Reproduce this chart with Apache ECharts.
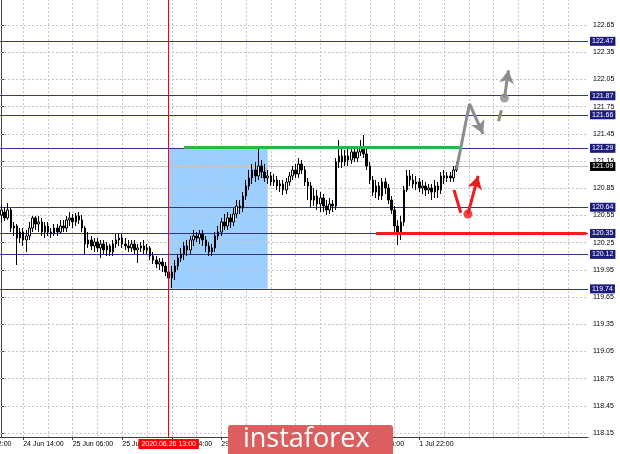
<!DOCTYPE html>
<html><head><meta charset="utf-8">
<script src="https://cdn.jsdelivr.net/npm/echarts@6/dist/echarts.min.js"></script>
<style>html,body{margin:0;padding:0;background:#fff}#c{width:620px;height:454px}</style>
</head><body><div id="c"></div>
<script>
// ---- data (USD/JPY H1) ----
const opens = [120.555,120.588,120.522,120.610,120.411,120.433,120.301,120.367,120.279,120.323,
120.411,120.522,120.455,120.478,120.367,120.433,120.367,120.345,120.411,120.367,
120.433,120.411,120.500,120.522,120.478,120.544,120.500,120.411,120.235,120.279,
120.213,120.257,120.191,120.235,120.169,120.213,120.147,120.235,120.279,120.301,
120.235,120.213,120.191,120.235,120.169,120.191,120.213,120.169,120.191,120.103,
120.058,120.014,120.036,119.992,119.926,119.860,119.926,119.992,120.080,120.125,
120.213,120.169,120.279,120.323,120.301,120.345,120.279,120.213,120.147,120.191,
120.323,120.367,120.478,120.433,120.522,120.478,120.566,120.654,120.632,120.764,
120.875,120.963,121.051,120.985,121.095,121.029,120.963,120.985,120.919,120.941,
120.875,120.897,120.831,120.919,120.985,121.051,121.007,121.117,121.051,120.919,
120.875,120.720,120.764,120.676,120.742,120.654,120.610,120.676,120.654,121.139,
121.206,121.139,121.206,121.161,121.250,121.183,121.250,121.294,121.228,121.095,
120.941,120.808,120.875,120.764,120.919,120.853,120.720,120.610,120.433,120.345,
120.478,120.831,120.985,120.941,120.897,120.919,120.853,120.875,120.831,120.853,
120.808,120.875,120.831,120.985,120.963,120.985,120.963,121.051];
const closes = [120.610,120.522,120.610,120.411,120.433,120.301,120.367,120.279,120.323,120.411,
120.522,120.455,120.478,120.367,120.433,120.367,120.345,120.411,120.367,120.433,
120.411,120.500,120.522,120.478,120.544,120.500,120.411,120.235,120.279,120.213,
120.257,120.191,120.235,120.169,120.213,120.147,120.235,120.279,120.301,120.235,
120.213,120.191,120.235,120.169,120.191,120.213,120.169,120.191,120.103,120.058,
120.014,120.036,119.992,119.926,119.860,119.926,119.992,120.080,120.125,120.213,
120.169,120.279,120.323,120.301,120.345,120.279,120.213,120.147,120.191,120.323,
120.367,120.478,120.433,120.522,120.478,120.566,120.654,120.632,120.764,120.875,
120.963,121.051,120.985,121.095,121.029,120.963,120.985,120.919,120.941,120.875,
120.897,120.831,120.919,120.985,121.051,121.007,121.117,121.051,120.919,120.875,
120.720,120.764,120.676,120.742,120.654,120.610,120.676,120.654,121.139,121.206,
121.139,121.206,121.161,121.250,121.183,121.250,121.294,121.228,121.095,120.941,
120.808,120.875,120.764,120.919,120.853,120.720,120.610,120.433,120.345,120.478,
120.831,120.985,120.941,120.897,120.919,120.853,120.875,120.831,120.853,120.808,
120.875,120.831,120.985,120.963,120.985,120.963,121.051,121.095];
const highs = [120.665,120.643,120.687,120.632,120.478,120.455,120.411,120.411,120.389,120.478,
120.544,120.544,120.544,120.522,120.478,120.478,120.411,120.455,120.455,120.500,
120.500,120.544,120.588,120.566,120.577,120.588,120.555,120.433,120.367,120.323,
120.301,120.301,120.279,120.279,120.257,120.235,120.279,120.345,120.345,120.345,
120.301,120.279,120.279,120.279,120.235,120.257,120.279,120.235,120.213,120.147,
120.103,120.080,120.080,120.036,119.992,119.992,120.058,120.125,120.191,120.257,
120.279,120.323,120.389,120.367,120.389,120.389,120.323,120.257,120.235,120.367,
120.433,120.522,120.566,120.588,120.566,120.632,120.720,120.720,120.808,120.941,
121.051,121.117,121.139,121.305,121.161,121.117,121.051,121.029,121.007,120.985,
120.941,120.941,120.963,121.029,121.095,121.117,121.183,121.161,121.095,120.963,
120.919,120.853,120.831,120.808,120.786,120.720,120.742,120.720,121.183,121.382,
121.294,121.272,121.294,121.316,121.294,121.316,121.382,121.437,121.294,121.139,
120.985,120.941,120.919,120.963,120.963,120.897,120.764,120.654,120.500,120.544,
120.875,121.051,121.051,121.007,120.985,120.963,120.941,120.919,120.897,120.897,
120.941,120.919,121.029,121.051,121.029,121.029,121.095,121.139];
const lows = [120.478,120.489,120.500,120.367,120.323,120.003,120.246,120.213,120.147,120.279,
120.367,120.389,120.367,120.323,120.301,120.323,120.301,120.323,120.323,120.345,
120.367,120.367,120.433,120.411,120.433,120.455,120.367,120.114,120.191,120.169,
120.147,120.147,120.080,120.125,120.103,120.103,120.103,120.191,120.213,120.191,
120.169,120.147,120.147,120.125,120.025,120.147,120.125,120.125,120.058,120.014,
119.970,119.948,119.926,119.882,119.794,119.750,119.838,119.948,120.036,120.058,
120.103,120.125,120.213,120.257,120.235,120.213,120.147,120.103,120.103,120.147,
120.279,120.323,120.389,120.389,120.411,120.433,120.522,120.566,120.588,120.720,
120.831,120.897,120.919,120.941,120.963,120.919,120.897,120.875,120.875,120.831,
120.808,120.775,120.786,120.875,120.941,120.963,120.963,121.007,120.875,120.720,
120.632,120.654,120.610,120.588,120.588,120.555,120.566,120.588,120.610,121.073,
121.073,121.095,121.095,121.117,121.139,121.139,121.206,121.183,121.051,120.897,
120.764,120.742,120.720,120.720,120.786,120.676,120.566,120.367,120.224,120.279,
120.433,120.808,120.875,120.853,120.831,120.808,120.786,120.764,120.786,120.720,
120.742,120.742,120.786,120.897,120.919,120.919,120.919,121.029];

const slotCount = 190;                    // hourly slots shown on the chart
const firstTickBar = 7, labelStep = 16, gridStep = 8;
const xTickLabels = ['24 Jun 14:00','25 Jun 06:00','25 Jun 22:00','26 Jun 14:00','29 Jun 06:00',
  '29 Jun 22:00','30 Jun 14:00','1 Jul 06:00','1 Jul 22:00'];
const yTickValues = [118.15,118.45,118.75,119.05,119.35,119.65,119.95,120.25,120.55,120.85,
  121.15,121.45,121.75,122.05,122.35,122.65];
const yMin = 118.106, yMax = 122.926;
const levelLines = [122.47,121.87,121.66,121.29,120.64,120.35,120.12,119.74];
const currentPrice = 121.09;
const markerBar = 54, markerText = '2020.06.26 13:00';
const boxBars = [54, 86], boxPrices = [121.29, 119.74];
const resistance = {price: 121.30, from: 59, to: 148};
const support = {price: 120.35, from: 121, to: 189};
// forecast sketch (bar index, price)
const bullPath = [[147, 121.06], [151.2, 121.78], [155.6, 121.45]];
const bullNext = [[160.6, 121.59], [161.5, 121.71]];
const bullPoint = [162.5, 121.845];
const bullTarget = [163.8, 122.15];
const bearPath = [[146.2, 120.83], [148.4, 120.58]];
const bearPoint = [150.7, 120.566];
const bearTarget = [154.0, 120.985];

// ---- chart ----
const categories = Array.from({length: slotCount}, (_, i) => String(i));
const candleData = opens.map((o, i) => [o, closes[i], lows[i], highs[i]]);
function labelAt(i) {
  const k = (i - firstTickBar) / labelStep;
  return (Number.isInteger(k) && k >= 0 && k < xTickLabels.length) ? xTickLabels[k] : null;
}
const vGrid = [];
for (let i = firstTickBar; i < slotCount; i += gridStep) vGrid.push({xAxis: i});
const hGrid = yTickValues.map(v => ({yAxis: v}));
const FONT = 'Liberation Sans';
const GRAY = '#8c8c8c', RED = '#ee1c1c';

function arrowPair(from, to, color) {
  return [
    {coord: from, symbol: 'none', lineStyle: {color: color, width: 3, type: 'solid'}},
    {coord: to, symbol: 'arrow', symbolSize: [11, 13], itemStyle: {color: color}}
  ];
}
function segPair(from, to, color) {
  return [
    {coord: from, symbol: 'none', lineStyle: {color: color, width: 3, type: 'solid'}},
    {coord: to, symbol: 'none'}
  ];
}

const option = {
  animation: false,
  backgroundColor: '#ffffff',
  grid: {left: -3, right: 32, top: 0, bottom: 17, containLabel: false},
  xAxis: [{
    type: 'category', data: categories, boundaryGap: true,
    axisLine: {show: true, lineStyle: {color: '#404040', width: 1}},
    axisTick: {show: true, alignWithLabel: true, length: 3, interval: (i) => labelAt(i) !== null,
      lineStyle: {color: '#404040'}},
    axisLabel: {show: true, interval: (i) => labelAt(i) !== null, formatter: (v, i) => labelAt(i) || '',
      align: 'left', margin: 4, fontSize: 7, color: '#000', fontFamily: FONT},
    splitLine: {show: false}
  }, {
    type: 'value', min: -0.5, max: slotCount - 0.5, show: false
  }],
  yAxis: [{
    type: 'value', position: 'right', min: yMin, max: yMax, scale: true,
    axisLine: {show: true, lineStyle: {color: '#404040', width: 1}},
    axisTick: {show: true, length: 3, customValues: yTickValues, lineStyle: {color: '#404040'}},
    axisLabel: {show: true, customValues: yTickValues, formatter: v => Number(v).toFixed(2),
      fontSize: 7, color: '#000', margin: 5, fontFamily: FONT},
    splitLine: {show: false}
  }],
  series: [
    { // analysis rectangle
      type: 'line', data: [], silent: true,
      markArea: {silent: true, z: 1, itemStyle: {color: '#9ccfff'},
        data: [[{coord: [boxBars[0], boxPrices[0]]}, {coord: [boxBars[1], boxPrices[1]]}]]}
    },
    { // dashed grid
      type: 'line', data: [], silent: true,
      markLine: {silent: true, z: 2, symbol: ['none', 'none'], label: {show: false},
        lineStyle: {color: '#c4c4c4', type: [2, 2], width: 1},
        data: hGrid.concat(vGrid)}
    },
    { // level lines
      type: 'line', data: [], silent: true,
      markLine: {silent: true, z: 3, symbol: ['none', 'none'],
        lineStyle: {color: '#34348e', type: 'solid', width: 1},
        label: {show: true, position: 'end', distance: 2, formatter: p => Number(p.value).toFixed(2),
          color: '#fff', backgroundColor: '#1c1c7e', padding: [1, 2, 0, 2], fontSize: 7,
          lineHeight: 8, fontFamily: FONT},
        data: levelLines.map(v => ({yAxis: v}))}
    },
    { // current price
      type: 'line', data: [], silent: true,
      markLine: {silent: true, z: 3, symbol: ['none', 'none'],
        lineStyle: {color: '#c0c0c0', type: 'solid', width: 1},
        label: {show: true, position: 'end', distance: 2, formatter: p => Number(p.value).toFixed(2),
          color: '#fff', backgroundColor: '#000', padding: [1, 2, 0, 2], fontSize: 7,
          lineHeight: 8, fontFamily: FONT},
        data: [{yAxis: currentPrice}]}
    },
    {
      type: 'candlestick', data: candleData, z: 4, barWidth: 2, silent: true,
      itemStyle: {color: '#ffffff', color0: '#000000', borderColor: '#000000', borderColor0: '#000000', borderWidth: 1}
    },
    { // resistance / support segments
      type: 'line', data: [], silent: true,
      markLine: {silent: true, z: 5, symbol: ['none', 'none'], label: {show: false},
        data: [
          [{coord: [resistance.from, resistance.price], lineStyle: {color: '#2db34a', width: 3, type: 'solid'}},
           {coord: [resistance.to, resistance.price]}],
          [{coord: [support.from, support.price], lineStyle: {color: '#f01e1e', width: 3, type: 'solid'}},
           {coord: [support.to, support.price]}]
        ]}
    },
    { // marker vertical line
      type: 'line', data: [], silent: true,
      markLine: {silent: true, z: 5, symbol: ['none', 'none'],
        lineStyle: {color: '#ff0000', width: 1, type: 'solid'},
        label: {show: true, position: 'start', distance: 2, formatter: markerText, color: '#fff',
          backgroundColor: '#ff0000', padding: [2, 3, 1, 3], fontSize: 7, fontFamily: FONT},
        data: [{xAxis: markerBar}]}
    },
    { // forecast sketch
      type: 'line', xAxisIndex: 1, data: [], silent: true,
      markLine: {silent: true, z: 6, label: {show: false},
        data: [
          segPair(bullPath[0], bullPath[1], GRAY),
          arrowPair(bullPath[1], bullPath[2], GRAY),
          segPair(bullNext[0], bullNext[1], GRAY),
          arrowPair(bullPoint, bullTarget, GRAY),
          segPair(bearPath[0], bearPath[1], RED),
          arrowPair(bearPoint, bearTarget, RED)
        ]}
    },
    {
      type: 'scatter', xAxisIndex: 1, z: 7, silent: true, symbolSize: 9,
      data: [{value: bullPoint, itemStyle: {color: GRAY}}, {value: bearPoint, itemStyle: {color: RED}}]
    }
  ],
  graphic: [
    {type: 'text', left: -29, top: 441, silent: true,
      style: {text: '23 Jun 22:00', fontSize: 7, fill: '#000', fontFamily: FONT}},
    {type: 'rect', left: 228, top: 425, z: 100, zlevel: 1, silent: true,
      shape: {width: 165, height: 34, r: 3}, style: {fill: '#dc5e5e'}},
    {type: 'text', left: 243, top: 426, z: 101, zlevel: 1, silent: true,
      style: {text: 'instaforex', fill: '#ffffff', fontSize: 27, fontFamily: 'Open Sans'}}
  ]
};
const chart = echarts.init(document.getElementById('c'));
chart.setOption(option);
</script></body></html>
